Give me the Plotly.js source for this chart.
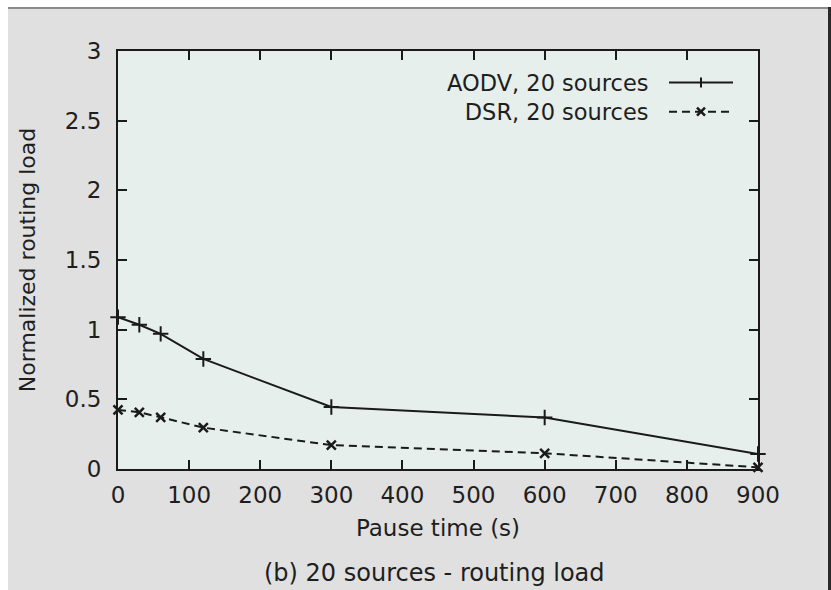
<!DOCTYPE html>
<html>
<head>
<meta charset="utf-8">
<script src="https://cdn.plot.ly/plotly-3.0.1.min.js"></script>
<style>
  html, body { margin: 0; padding: 0; background: #ffffff; width: 831px; height: 590px; overflow: hidden; }
  #topline { position: absolute; left: 8px; top: 7px; width: 823px; height: 2px; background: #8a8a8a; }
  #rightline { position: absolute; left: 828px; top: 7px; width: 3px; height: 583px; background: #2a2a2a; }
  #plot { position: absolute; left: 8px; top: 9px; width: 820px; height: 581px; }
</style>
</head>
<body>
<div id="topline"></div>
<div id="plot"></div>
<div id="rightline"></div>
<script>
// ---- data ----
const pauseTimes = [0, 30, 60, 120, 300, 600, 900];
const aodvLoad   = [1.09, 1.035, 0.97, 0.79, 0.445, 0.37, 0.108];
const dsrLoad    = [0.424, 0.407, 0.371, 0.297, 0.172, 0.113, 0.012];
const seriesNames = ['AODV, 20 sources', 'DSR, 20 sources'];
const xTicks = [0, 100, 200, 300, 400, 500, 600, 700, 800, 900];
const yTicks = [0, 0.5, 1, 1.5, 2, 2.5, 3];

const ink = '#1a1a1a';
const textColor = '#1e1e1e';
const fontFam = '"DejaVu Sans", "Open Sans", sans-serif';

const traces = [
  {
    x: pauseTimes, y: aodvLoad, name: seriesNames[0], type: 'scatter', mode: 'lines+markers',
    line: { color: ink, width: 2 },
    marker: { symbol: 'cross-thin-open', size: 11, color: ink, line: { color: ink, width: 2 } },
    cliponaxis: false, showlegend: false
  },
  {
    x: pauseTimes, y: dsrLoad, name: seriesNames[1], type: 'scatter', mode: 'lines+markers',
    line: { color: ink, width: 2, dash: '8px,5px' },
    marker: { symbol: 'x-thin-open', size: 9, color: ink, line: { color: ink, width: 2.5 } },
    cliponaxis: false, showlegend: false
  }
];

// plot-area geometry (pixels inside the plot div)
const M = { l: 110, r: 70, t: 42, b: 121 };
const W = 820, H = 581;
const pw = W - M.l - M.r, ph = H - M.t - M.b;
const px = v => (v - M.l) / pw;          // div px -> paper x
const py = v => 1 - (v - M.t) / ph;      // div px -> paper y

// custom legend (text on the left, sample on the right, as in the reference)
const legFont = 22.5;
const legCenter = 88;
const legGap = legFont * 1.3;
const legRows = [legCenter - legGap / 2, legCenter + legGap / 2];
const legTextX = 642, legLineX0 = 661, legLineX1 = 725, legMid = 693;
const annotations = [];
const shapes = [];
annotations.push({
  xref: 'paper', yref: 'paper', x: px(legTextX), y: py(legCenter),
  xanchor: 'right', yanchor: 'middle', align: 'right', showarrow: false,
  text: seriesNames.join('<br>'), borderpad: 0,
  font: { family: fontFam, size: legFont, color: textColor }
});
seriesNames.forEach((nm, i) => {
  shapes.push({
    type: 'line', xref: 'paper', yref: 'paper',
    x0: px(legLineX0), x1: px(legLineX1), y0: py(legRows[i]), y1: py(legRows[i]),
    line: { color: ink, width: 2, dash: i === 0 ? 'solid' : '8px,5px' }
  });
});
// legend marker glyphs
const s = 5;
const cy0 = legRows[0], cy1 = legRows[1];
shapes.push({
  type: 'path', xref: 'paper', yref: 'paper',
  path: `M ${px(legMid)} ${py(cy0 - s)} L ${px(legMid)} ${py(cy0 + s)}`,
  line: { color: ink, width: 2 }
});
shapes.push({
  type: 'path', xref: 'paper', yref: 'paper',
  path: `M ${px(legMid - 4)} ${py(cy1 - 4)} L ${px(legMid + 4)} ${py(cy1 + 4)} M ${px(legMid - 4)} ${py(cy1 + 4)} L ${px(legMid + 4)} ${py(cy1 - 4)}`,
  line: { color: ink, width: 2.5 }
});

// caption
annotations.push({
  xref: 'paper', yref: 'paper', x: px(426), y: py(564),
  xanchor: 'center', yanchor: 'middle', showarrow: false,
  text: '(b) 20 sources - routing load',
  font: { family: fontFam, size: 24, color: textColor }
});

const axisCommon = {
  showgrid: false, zeroline: false, showline: true, linecolor: ink, linewidth: 2,
  ticks: 'inside', ticklen: 9, tickwidth: 2, tickcolor: ink, mirror: 'allticks',
  tickfont: { family: fontFam, size: 23, color: textColor }, fixedrange: true
};

const layout = {
  width: W, height: H,
  margin: M,
  paper_bgcolor: '#e0e0e0',
  plot_bgcolor: '#e7efec',
  showlegend: false,
  xaxis: Object.assign({}, axisCommon, {
    range: [0, 900], tickmode: 'array', tickvals: xTicks, ticktext: xTicks.map(String),
    ticklabelstandoff: 4,
    title: { text: 'Pause time (s)', standoff: 13, font: { family: fontFam, size: 23, color: textColor } }
  }),
  yaxis: Object.assign({}, axisCommon, {
    range: [0, 3], tickmode: 'array', tickvals: yTicks, ticktext: yTicks.map(String),
    ticklabelstandoff: 10,
    title: { text: 'Normalized routing load', standoff: 23, font: { family: fontFam, size: 22, color: textColor } }
  }),
  annotations: annotations,
  shapes: shapes
};

Plotly.newPlot('plot', traces, layout, { displayModeBar: false, staticPlot: true });
</script>
</body>
</html>
